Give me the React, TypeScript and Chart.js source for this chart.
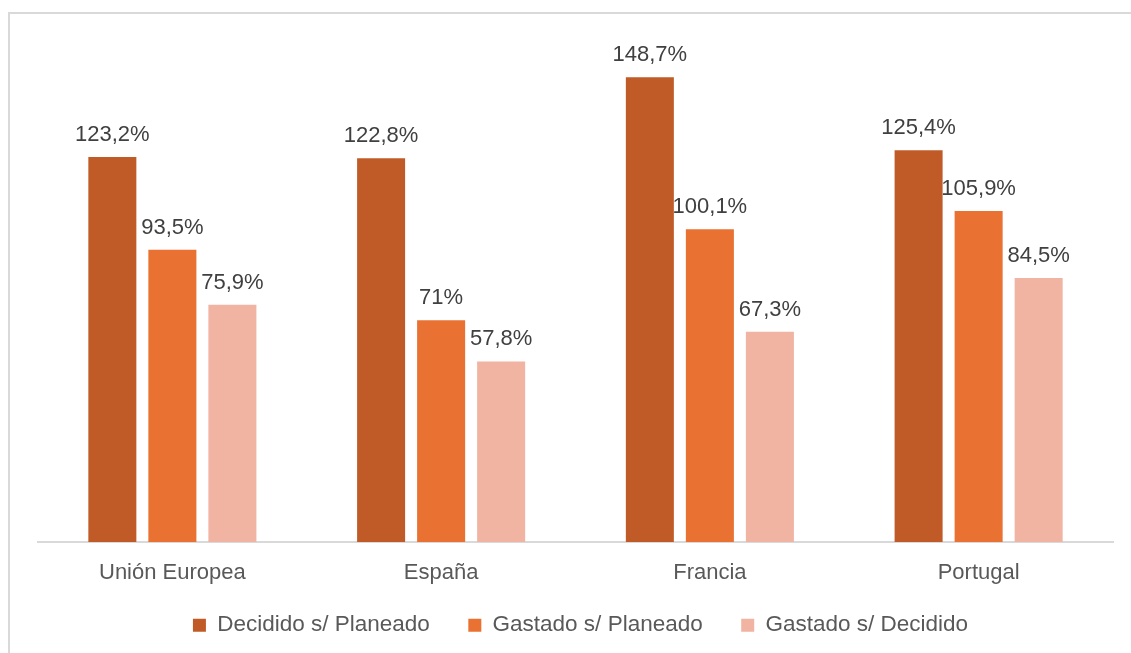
import React, { useEffect, useRef } from "react";
import { Chart, registerables } from "chart.js";

Chart.register(...registerables);

const categories = ["Unión Europea", "España", "Francia", "Portugal"];
const seriesNames = ["Decidido s/ Planeado", "Gastado s/ Planeado", "Gastado s/ Decidido"];
const decididoPlaneado = [123.2, 122.8, 148.7, 125.4];
const gastadoPlaneado = [93.5, 71, 100.1, 105.9];
const gastadoDecidido = [75.9, 57.8, 67.3, 84.5];
const seriesColors = ["#C05B28", "#E97132", "#F1B3A2"];

const W = 1131;
const H = 653;
const FONT = "'Liberation Sans', Arial, sans-serif";

const fmt = (v: number) => String(v).replace(".", ",") + "%";

const frame = {
  id: "frame",
  afterLayout(chart: any) {
    const lg = chart.legend;
    if (lg) {
      lg.left += 5;
      lg.right += 5;
    }
  },
  beforeDraw(chart: any) {
    const ctx = chart.ctx;
    ctx.save();
    ctx.fillStyle = "#ffffff";
    ctx.fillRect(0, 0, chart.width, chart.height);
    ctx.strokeStyle = "#d9d9d9";
    ctx.lineWidth = 2;
    ctx.beginPath();
    ctx.moveTo(9, chart.height);
    ctx.lineTo(9, 13);
    ctx.lineTo(chart.width, 13);
    ctx.stroke();
    ctx.restore();
  },
};

const valueLabels = {
  id: "valueLabels",
  afterDatasetsDraw(chart: any) {
    const ctx = chart.ctx;
    ctx.save();
    ctx.font = `22px ${FONT}`;
    ctx.fillStyle = "#404040";
    ctx.textAlign = "center";
    ctx.textBaseline = "alphabetic";
    chart.data.datasets.forEach((ds: any, i: number) => {
      const meta = chart.getDatasetMeta(i);
      meta.data.forEach((bar: any, j: number) => {
        ctx.fillText(fmt(ds.data[j]), bar.x, bar.y - 16);
      });
    });
    ctx.restore();
  },
};

export default function App() {
  const ref = useRef<HTMLCanvasElement>(null);
  useEffect(() => {
    if (!ref.current) return;
    const chart = new Chart(ref.current, {
      type: "bar",
      data: {
        labels: categories,
        datasets: [decididoPlaneado, gastadoPlaneado, gastadoDecidido].map((d, i) => ({
          label: seriesNames[i],
          data: d,
          backgroundColor: seriesColors[i],
          borderWidth: 0,
          barPercentage: 0.8,
          categoryPercentage: 0.67,
        })),
      },
      options: {
        responsive: false,
        animation: false,
        layout: { padding: { left: 38, right: 18, top: 42, bottom: 6.5 } },
        plugins: {
          tooltip: { enabled: false },
          legend: {
            position: "bottom",
            labels: {
              boxWidth: 13,
              boxHeight: 13,
              padding: 26,
              color: "#595959",
              font: { family: FONT, size: 22.5 },
              generateLabels: (c: any) => {
                const items = Chart.defaults.plugins.legend.labels.generateLabels(c);
                return items.map((it: any, i: number) => ({
                  ...it,
                  text: i < items.length - 1 ? it.text + "  " : it.text,
                }));
              },
            },
          },
        },
        scales: {
          x: {
            grid: { display: false },
            border: { display: true, color: "#d9d9d9", width: 2 },
            ticks: { color: "#595959", font: { family: FONT, size: 22 }, padding: 10 },
            afterFit: (axis: any) => {
              axis.height = 46;
            },
          },
          y: {
            display: false,
            min: 0,
            max: 160,
          },
        },
      },
      plugins: [frame, valueLabels],
    });
    return () => chart.destroy();
  }, []);
  return (
    <div style={{ position: "fixed", left: 0, top: 0, width: W, height: H }}>
      <canvas ref={ref} width={W} height={H} style={{ display: "block" }} />
    </div>
  );
}
